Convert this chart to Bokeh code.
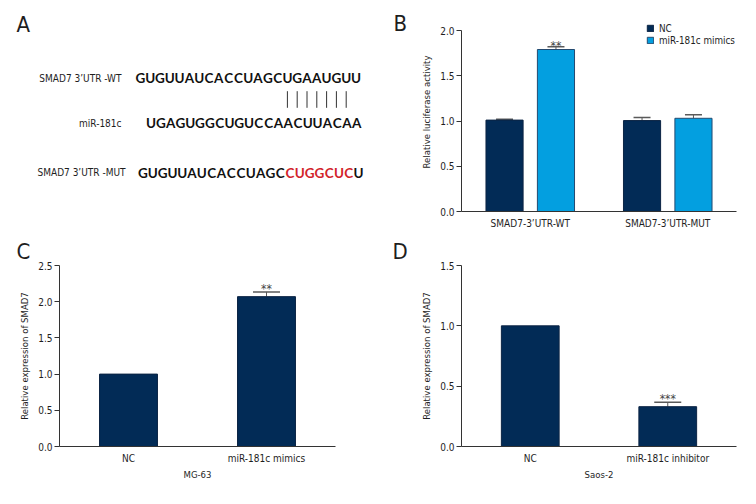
from bokeh.plotting import figure
from bokeh.models import (Range1d, FactorRange, Legend, LegendItem,
                          ColumnDataSource, Whisker, TeeHead, PrintfTickFormatter)
from bokeh.transform import dodge
from bokeh.layouts import row, column
from bokeh.embed import file_html
from bokeh.resources import INLINE
from bokeh.core.properties import value

NAVY = "#022b56"
BLUE = "#039fe0"
TXT = "#1e1e1e"
ERR = "#5a5a5a"
FONT = "DejaVu Sans Condensed, Roboto"
SEQ_FONT = "Lato"

# ---------------- data ----------------
# Panel A
wt_label = "SMAD7 3\u2019UTR -WT"
mir_label = "miR-181c"
mut_label = "SMAD7 3\u2019UTR -MUT"
wt_seq = "GUGUUAUCACCUAGCUGAAUGUU"
mir_seq = "UGAGUGGCUGUCCAACUUACAA"
mut_seq = "GUGUUAUCACCUAGCCUGGCUCU"
seed_idx = [15, 16, 17, 18, 19, 20, 21]

# Panel B
b_groups = ["SMAD7-3\u2019UTR-WT", "SMAD7-3\u2019UTR-MUT"]
b_nc = [1.01, 1.005]
b_nc_err = [0.01, 0.035]
b_mim = [1.79, 1.03]
b_mim_err = [0.03, 0.04]
b_sig = ["**", ""]

# Panel C
c_groups = ["NC", "miR-181c mimics"]
c_vals = [1.0, 2.07]
c_err = [0.0, 0.065]
c_sig = ["", "**"]

# Panel D
d_groups = ["NC", "miR-181c inhibitor"]
d_vals = [1.0, 0.33]
d_err = [0.0, 0.037]
d_sig = ["", "***"]


def style_axes(p, yticks):
    for ax in p.axis:
        ax.axis_line_color = "#333333"
        ax.axis_line_width = 1
        ax.major_label_text_font = FONT
        ax.major_label_text_font_size = "10px"
        ax.major_label_text_color = TXT
        ax.axis_label_text_font = FONT
        ax.axis_label_text_font_size = "9.5px"
        ax.axis_label_text_font_style = "normal"
        ax.axis_label_text_color = TXT
        ax.minor_tick_line_color = None
    p.xaxis.major_tick_line_color = None
    p.xaxis.major_tick_out = 0
    p.xaxis.major_tick_in = 0
    p.xaxis.major_label_standoff = 6
    p.xaxis.axis_label_standoff = 2
    p.yaxis.ticker = yticks
    p.yaxis.formatter = PrintfTickFormatter(format="%.1f")
    p.yaxis.major_tick_out = 5
    p.yaxis.major_tick_in = 0
    p.yaxis.major_tick_line_color = "#333333"
    p.yaxis.major_label_standoff = 2
    p.yaxis.axis_label_standoff = 5
    p.grid.visible = False
    p.outline_line_color = None


# ---------------- Panel A (diagram, page pixel coordinates) ----------------
pa = figure(width=410, height=236, x_range=Range1d(0, 410), y_range=Range1d(211, 12),
            x_axis_location=None, y_axis_location=None,
            min_border_left=0, min_border_right=0, min_border_top=12, min_border_bottom=25,
            output_backend="svg", toolbar_location=None)
pa.grid.visible = False
pa.outline_line_color = None

pa.text(x=[16, 393], y=[24, 22.5], text=["A", "B"], text_font=value(FONT),
        text_font_size="22px", text_color=TXT, text_baseline="alphabetic")
pa.text(x=[121, 121, 125], y=[77.5, 122.5, 172], text=[wt_label, mir_label, mut_label],
        text_font=value(FONT), text_font_size="10px", text_color=TXT,
        text_align="right", text_baseline="middle")

pitch = 9.8
sx, sy, st, sc = [], [], [], []
for seq, x0, y0, ref in [(wt_seq, 135.0, 77.5, None), (mir_seq, 145.6, 122.5, None),
                         (mut_seq, 137.6, 172.0, wt_seq)]:
    for i, ch in enumerate(seq):
        sx.append(x0 + pitch / 2 + pitch * i)
        sy.append(y0)
        st.append(ch)
        sc.append("#d2232a" if (ref is not None and ref[i] != ch) else "#111111")
pa.text(x=sx, y=sy, text=st, text_color=sc, text_font=value(SEQ_FONT),
        text_font_style="bold", text_font_size="13.5px",
        text_align="center", text_baseline="middle")
lx = [135.0 + pitch / 2 + pitch * i for i in seed_idx]
pa.segment(x0=lx, x1=lx, y0=[90.7] * len(lx), y1=[107.3] * len(lx),
           line_color="#333333", line_width=1)

# ---------------- Panel B ----------------
pb = figure(width=346, height=236, x_range=FactorRange(factors=b_groups, range_padding=0),
            y_range=Range1d(0, 2.0 * 199 / 181), min_border_left=51, min_border_right=20,
            min_border_top=12, min_border_bottom=25,
            output_backend="svg", toolbar_location=None)
srcb = ColumnDataSource(dict(group=b_groups, nc=b_nc, mim=b_mim,
                             nc_top=[v + e for v, e in zip(b_nc, b_nc_err)],
                             mim_top=[v + e for v, e in zip(b_mim, b_mim_err)],
                             sig=b_sig))
off = 0.187
r1 = pb.vbar(x=dodge("group", -off, range=pb.x_range), top="nc", width=0.27, source=srcb,
             fill_color=NAVY, line_color="#0c2444", line_width=1)
r2 = pb.vbar(x=dodge("group", off, range=pb.x_range), top="mim", width=0.27, source=srcb,
             fill_color=BLUE, line_color="#244a70", line_width=1)
for col, topcol, o in [("nc", "nc_top", -off), ("mim", "mim_top", off)]:
    pb.add_layout(Whisker(base=dodge("group", o, range=pb.x_range), lower=col, upper=topcol,
                          source=srcb, dimension="height", line_color=ERR, line_width=1,
                          lower_head=None,
                          upper_head=TeeHead(size=17, line_color=ERR, line_width=1.5)))
pb.text(x=dodge("group", off, range=pb.x_range), y="mim_top", text="sig", source=srcb,
        text_font=value(FONT), text_font_size="12px", text_color="#444444",
        text_align="center", text_baseline="alphabetic", y_offset=-1)
style_axes(pb, [0, 0.5, 1.0, 1.5, 2.0])
pb.yaxis.bounds = (0, 2.0)
pb.yaxis.axis_label = "Relative luciferase activity"
legend = Legend(items=[LegendItem(label="NC", renderers=[r1]),
                       LegendItem(label="miR-181c mimics", renderers=[r2])],
                location=(185, 165), glyph_width=8, glyph_height=8, label_height=12,
                label_standoff=5, spacing=0, padding=0, margin=0,
                border_line_color=None, background_fill_alpha=0,
                label_text_font=FONT, label_text_font_size="9.8px",
                label_text_color=TXT)
pb.add_layout(legend)


# ---------------- Panels C / D ----------------
def single_panel(groups, vals, errs, sigs, ymax, yticks, ylabel, xlabel, bl, br, letter, loff):
    p = figure(width=378, height=268, x_range=FactorRange(factors=groups, range_padding=0),
               y_range=Range1d(0, ymax), min_border_left=bl, min_border_right=br,
               min_border_top=29, min_border_bottom=58, title=letter,
               output_backend="svg", toolbar_location=None)
    p.title.align = "left"
    p.title.offset = loff
    p.title.standoff = 0
    p.title.vertical_align = "top"
    p.title.text_font = FONT
    p.title.text_font_size = "22px"
    p.title.text_font_style = "normal"
    p.title.text_color = TXT
    src = ColumnDataSource(dict(group=groups, val=vals))
    p.vbar(x="group", top="val", width=0.42, source=src, fill_color=NAVY,
           line_color="#0c2444", line_width=1)
    eg = [g for g, e in zip(groups, errs) if e > 0]
    ev = [v for v, e in zip(vals, errs) if e > 0]
    et = [v + e for v, e in zip(vals, errs) if e > 0]
    es = [s for s, e in zip(sigs, errs) if e > 0]
    esrc = ColumnDataSource(dict(group=eg, val=ev, top=et, sig=es))
    p.add_layout(Whisker(base="group", lower="val", upper="top", source=esrc,
                         dimension="height", line_color=ERR, line_width=1, lower_head=None,
                         upper_head=TeeHead(size=27, line_color=ERR, line_width=1.5)))
    p.text(x="group", y="top", text="sig", source=esrc, text_font=value(FONT),
           text_font_size="12px", text_color="#444444", text_align="center",
           text_baseline="alphabetic", y_offset=-3)
    style_axes(p, yticks)
    p.yaxis.axis_label = ylabel
    p.xaxis.axis_label = xlabel
    return p


pc = single_panel(c_groups, c_vals, c_err, c_sig, 2.5, [0, 0.5, 1.0, 1.5, 2.0, 2.5],
                  "Relative expression of SMAD7", "MG-63", 59, 43, "C", -43)
pd = single_panel(d_groups, d_vals, d_err, d_sig, 1.5, [0, 0.5, 1.0, 1.5],
                  "Relative expression of SMAD7", "Saos-2", 83, 20, "D", -69)

layout = column(row(pa, pb), row(pc, pd))
open("out.html", "w").write(file_html(layout, INLINE))
